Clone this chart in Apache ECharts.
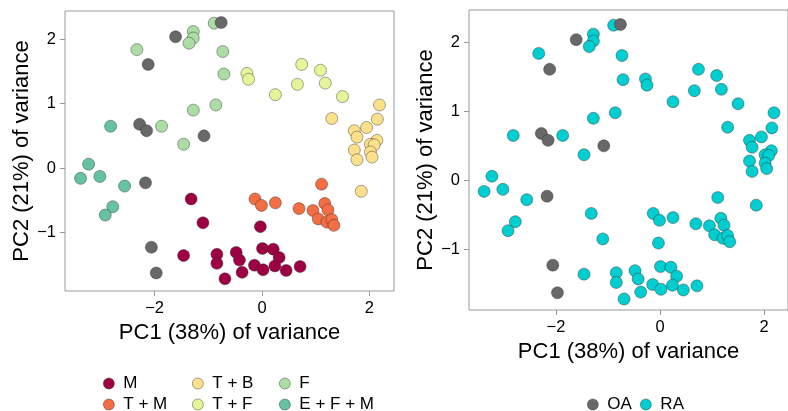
<!DOCTYPE html>
<html>
<head>
<meta charset="utf-8">
<script src="https://cdn.jsdelivr.net/npm/echarts@6/dist/echarts.min.js"></script>
<style>
  html, body { margin: 0; padding: 0; background: #fff; }
  #chart { width: 788px; height: 411px; }
</style>
</head>
<body>
<div id="chart"></div>
<script>
// PCA scores (PC1, PC2) per group
var groupM = [[-1.32, -0.48], [-1.10, -0.85], [-0.03, -0.91], [-1.46, -1.36], [-0.84, -1.34],
  [-0.84, -1.48], [-0.69, -1.72], [-0.48, -1.31], [-0.42, -1.43], [-0.37, -1.62],
  [-0.14, -1.51], [0.01, -1.25], [0.21, -1.26], [0.32, -1.39], [0.02, -1.58],
  [0.24, -1.52], [0.45, -1.59], [0.71, -1.53]];
var groupTM = [[-0.13, -0.48], [-0.01, -0.58], [0.25, -0.54], [0.69, -0.63], [1.11, -0.25],
  [1.17, -0.55], [1.23, -0.65], [0.95, -0.66], [1.05, -0.79], [1.21, -0.84],
  [1.30, -0.80], [1.34, -0.89]];
var groupTB = [[2.19, 0.98], [2.15, 0.76], [1.30, 0.77], [1.95, 0.63], [1.72, 0.58],
  [1.77, 0.48], [2.14, 0.43], [2.02, 0.37], [2.09, 0.36], [1.72, 0.28],
  [2.02, 0.25], [1.77, 0.13], [2.05, 0.17], [1.85, -0.36]];
var groupTF = [[-0.28, 1.47], [-0.25, 1.38], [0.74, 1.61], [1.09, 1.52], [1.18, 1.32],
  [0.66, 1.30], [0.25, 1.14], [1.50, 1.11]];
var groupF = [[-0.89, 2.25], [-1.28, 2.12], [-1.28, 2.02], [-1.36, 1.94], [-2.33, 1.84],
  [-0.73, 1.81], [-0.71, 1.46], [-0.86, 0.98], [-1.28, 0.90], [-1.87, 0.65], [-1.46, 0.37]];
var groupEFM = [[-2.82, 0.65], [-3.23, 0.06], [-3.38, -0.16], [-3.02, -0.13], [-2.56, -0.28],
  [-2.78, -0.60], [-2.92, -0.73]];
var groupOA = [[-0.76, 2.26], [-1.61, 2.04], [-2.12, 1.61], [-2.28, 0.68], [-2.15, 0.58],
  [-1.08, 0.50], [-2.17, -0.23], [-2.06, -1.23], [-1.97, -1.63]];
var groupRA = groupM.concat(groupTM, groupTB, groupTF, groupF, groupEFM);

var xTicks = [-2, 0, 2];
var yTicks = [-1, 0, 1, 2];

var colors = {
  'M': '#9e0142', 'T + M': '#f46d43', 'T + B': '#fee08b', 'T + F': '#e6f598',
  'F': '#abdda4', 'E + F + M': '#66c2a5', 'OA': '#686868', 'RA': '#00ced1'
};

var font = "'Liberation Sans', Arial, sans-serif";

function fmt(v) {
  return String(v).replace('-', '\u2212');
}

function makeX(gridIndex, nameGap) {
  return {
    type: 'value', gridIndex: gridIndex, min: -3.67, max: 2.46,
    name: 'PC1 (38%) of variance', nameLocation: 'middle', nameGap: nameGap,
    nameTextStyle: { fontSize: 22, color: '#000', fontFamily: font },
    axisLine: { show: false, onZero: false },
    axisTick: { show: true, length: 5, customValues: xTicks, lineStyle: { color: '#999' } },
    axisLabel: { customValues: xTicks, formatter: fmt, margin: 9, fontSize: 16.5, color: '#000', fontFamily: font },
    splitLine: { show: false }
  };
}

function makeY(gridIndex, min, max) {
  return {
    type: 'value', gridIndex: gridIndex, min: min, max: max,
    name: 'PC2 (21%) of variance', nameLocation: 'middle', nameGap: 27,
    nameTextStyle: { fontSize: 22, color: '#000', fontFamily: font },
    axisLine: { show: false, onZero: false },
    axisTick: { show: true, length: 5, customValues: yTicks, lineStyle: { color: '#999' } },
    axisLabel: { customValues: yTicks, formatter: fmt, margin: 9, fontSize: 16.5, color: '#000', fontFamily: font },
    splitLine: { show: false }
  };
}

function makeScatter(name, data, idx, z) {
  return {
    type: 'scatter', name: name, data: data,
    xAxisIndex: idx, yAxisIndex: idx, z: z || 2,
    symbolSize: 12,
    itemStyle: { color: colors[name], opacity: 1, borderColor: 'rgba(40,40,40,0.6)', borderWidth: 0.7 },
    emphasis: { disabled: true }
  };
}

function makeLegend(name, left, top) {
  return {
    data: [name], left: left, top: top, icon: 'circle',
    itemWidth: 11, itemHeight: 11, selectedMode: false,
    itemStyle: { borderColor: 'rgba(40,40,40,0.6)', borderWidth: 0.7 },
    textStyle: { fontSize: 17, color: '#000', fontFamily: font, padding: [0, 0, 0, 4] }
  };
}

var chart = echarts.init(document.getElementById('chart'), null, { renderer: 'canvas' });
chart.setOption({
  animation: false,
  backgroundColor: '#fff',
  grid: [
    { left: 65, top: 11, width: 329, height: 280, show: true, borderColor: '#999', borderWidth: 1 },
    { left: 469, top: 10, width: 329, height: 300, show: true, borderColor: '#999', borderWidth: 1 }
  ],
  xAxis: [makeX(0, 19), makeX(1, 22)],
  yAxis: [makeY(0, -1.91, 2.44), makeY(1, -1.88, 2.47)],
  legend: [
    makeLegend('M', 98, 370), makeLegend('T + M', 98, 391),
    makeLegend('T + B', 187, 370), makeLegend('T + F', 187, 391),
    makeLegend('F', 274, 370), makeLegend('E + F + M', 274, 391),
    makeLegend('OA', 582, 391), makeLegend('RA', 635, 391)
  ],
  series: [
    makeScatter('M', groupM, 0),
    makeScatter('T + M', groupTM, 0),
    makeScatter('T + B', groupTB, 0),
    makeScatter('T + F', groupTF, 0),
    makeScatter('F', groupF, 0),
    makeScatter('E + F + M', groupEFM, 0),
    makeScatter('OA', groupOA, 0, 3),
    makeScatter('RA', groupRA, 1),
    makeScatter('OA', groupOA, 1, 3)
  ]
});
</script>
</body>
</html>
